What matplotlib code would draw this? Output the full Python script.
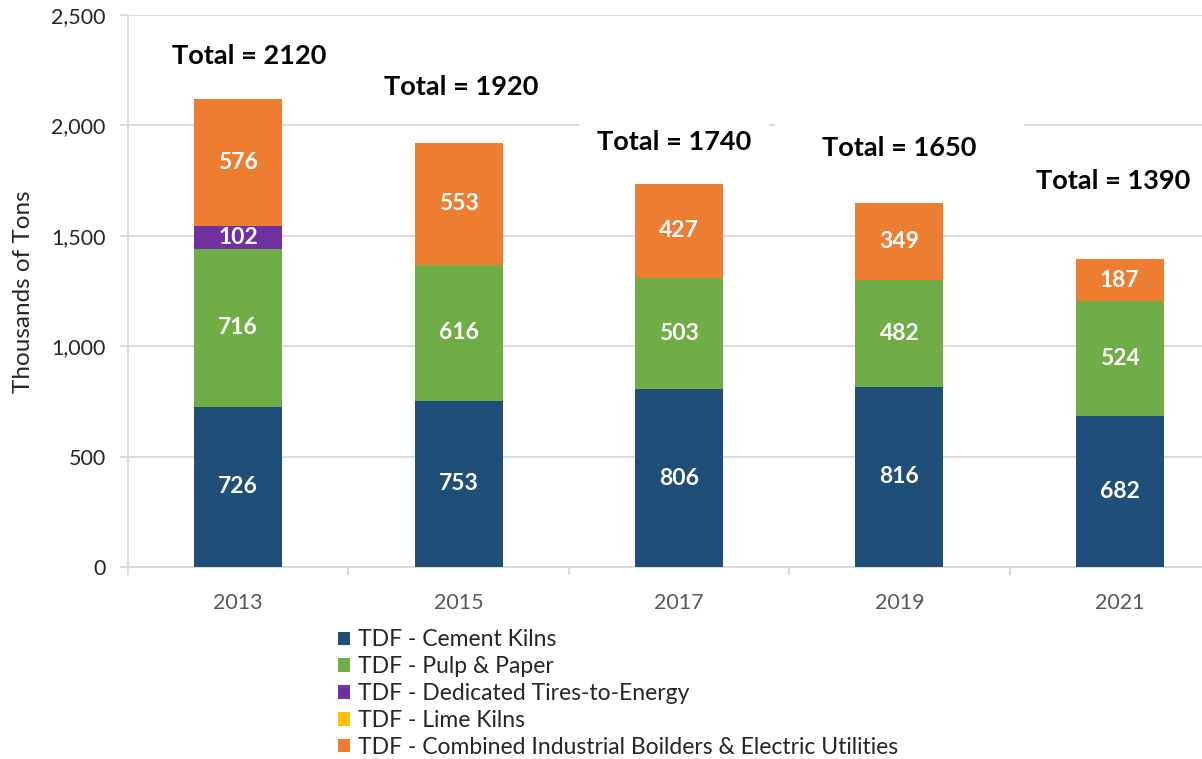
import numpy as np
import matplotlib
matplotlib.use("Agg")
import matplotlib.pyplot as plt
from matplotlib.patches import Patch
from matplotlib.ticker import FuncFormatter, MultipleLocator, FixedLocator

plt.rcParams['font.family'] = ['Lato', 'DejaVu Sans']

# ---- data ----
years = ['2013', '2015', '2017', '2019', '2021']
cement_kilns = [726, 753, 806, 816, 682]
pulp_paper = [716, 616, 503, 482, 524]
dedicated_tte = [102, 0, 0, 0, 0]
lime_kilns = [0, 0, 0, 0, 0]
combined_boilers = [576, 553, 427, 349, 187]
series_names = ['TDF - Cement Kilns', 'TDF - Pulp & Paper',
                'TDF - Dedicated Tires-to-Energy', 'TDF - Lime Kilns',
                'TDF - Combined Industrial Boilders & Electric Utilities']

# ---- layout / style ----
colors = ['#1F4E79', '#70AD47', '#7030A0', '#FFC000', '#ED7D31']
total_label_y = [2314, 2174, 1925, 1898, 1748]
total_label_dx = [0.05, 0.01, -0.02, 0.0, -0.03]
total_label_pad = [0.2, 0.2, 0.65, 1.75, 0.2]

W, H = 1202, 759
fig = plt.figure(figsize=(W / 100, H / 100), dpi=100)
ax = fig.add_axes([128 / W, 1 - 567 / H, 1102 / W, 552 / H])

x = np.arange(len(years))
series = [cement_kilns, pulp_paper, dedicated_tte, lime_kilns, combined_boilers]
bottom = np.zeros(len(years))
for vals, name, col in zip(series, series_names, colors):
    vals = np.array(vals, dtype=float)
    ax.bar(x, vals, 0.4, bottom=bottom, color=col, label=name, zorder=3)
    for xi, b, v in zip(x, bottom, vals):
        if v > 0:
            ax.text(xi, b + v / 2, f"{int(v)}", ha='center', va='center',
                    color='white', fontsize=16.5, fontweight='bold', zorder=4)
    bottom += vals

totals = bottom
for xi, t, ly, dx, pad in zip(x, totals, total_label_y, total_label_dx, total_label_pad):
    ax.text(xi + dx, ly, f"Total = {int(round(t, -1))}", ha='center', va='center',
            fontsize=19.5, fontweight='bold', color='black', zorder=2,
            bbox=dict(boxstyle=f'square,pad={pad}', fc='white', ec='none'))

ax.set_xlim(-0.5, 4.5)
ax.set_ylim(0, 2500)
ax.yaxis.set_major_locator(MultipleLocator(500))
ax.yaxis.set_major_formatter(FuncFormatter(lambda v, p: f"{int(v):,}"))
ax.grid(axis='y', color='#D9D9D9', linewidth=1.3, zorder=0.5)
ax.set_axisbelow(True)

ax.set_xticks(x)
ax.set_xticklabels(years)
ax.xaxis.set_minor_locator(FixedLocator(np.arange(-0.5, 5.0, 1.0)))
ax.tick_params(axis='x', which='major', length=0, pad=19, labelsize=15.5, labelcolor='#595959')
ax.tick_params(axis='x', which='minor', length=6, color='#D9D9D9', width=1.3)
ax.tick_params(axis='y', length=6, color='#D9D9D9', width=1.3, pad=10,
               labelsize=15.5, labelcolor='#262626')

for s in ['top', 'right']:
    ax.spines[s].set_visible(False)
for s in ['left', 'bottom']:
    ax.spines[s].set_color('#D9D9D9')
    ax.spines[s].set_linewidth(1.3)

fig.text(24 / W, 1 - 292 / H, 'Thousands of Tons', rotation=90, ha='center',
         va='center', fontsize=17.5, color='#262626')

handles = [Patch(facecolor=c, edgecolor='none') for c in colors]
fig.legend(handles, series_names, loc='upper left',
           bbox_to_anchor=(327 / W, 1 - 618 / H), frameon=False,
           fontsize=16.5, handlelength=0.52, handleheight=0.52, handletextpad=0.35,
           labelspacing=0.255, borderpad=0, labelcolor='#262626')

fig.savefig('out.png', dpi=100)
